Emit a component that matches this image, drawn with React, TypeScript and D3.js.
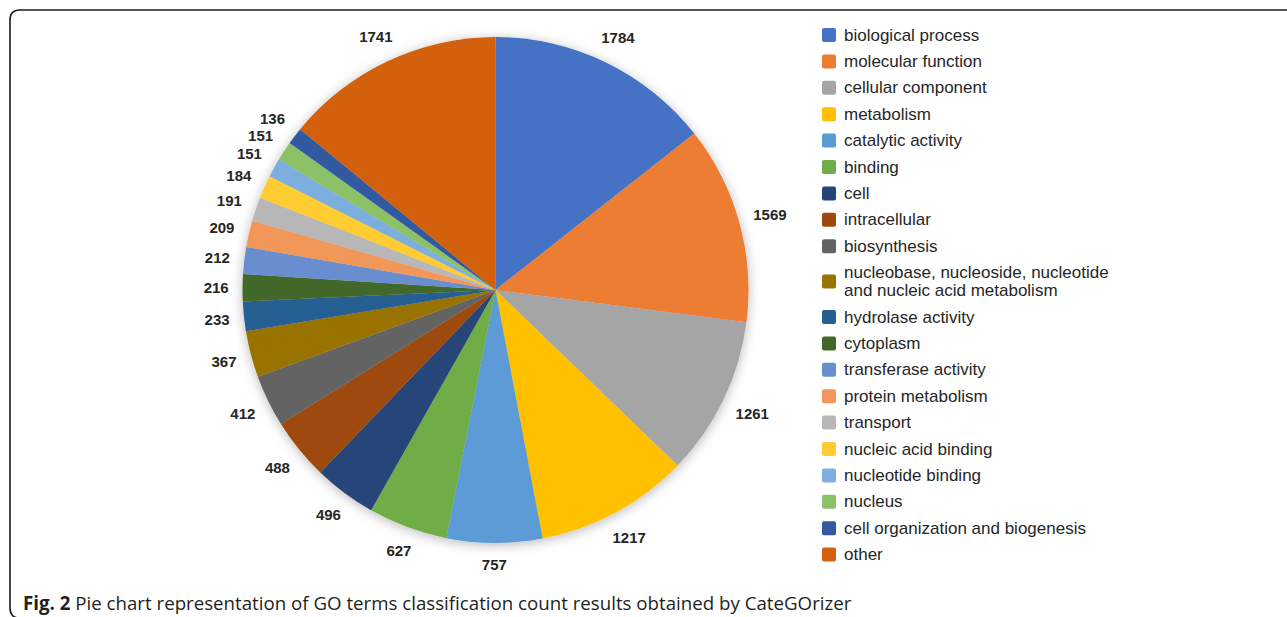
import React from 'react';
import * as d3 from 'd3';

const categories = [
  'biological process',
  'molecular function',
  'cellular component',
  'metabolism',
  'catalytic activity',
  'binding',
  'cell',
  'intracellular',
  'biosynthesis',
  'nucleobase, nucleoside, nucleotide\nand nucleic acid metabolism',
  'hydrolase activity',
  'cytoplasm',
  'transferase activity',
  'protein metabolism',
  'transport',
  'nucleic acid binding',
  'nucleotide binding',
  'nucleus',
  'cell organization and biogenesis',
  'other',
];

const counts = [1784, 1569, 1261, 1217, 757, 627, 496, 488, 412, 367, 233, 216, 212, 209, 191, 184, 151, 151, 136, 1741];

const colors = [
  '#4472C4', '#ED7D31', '#A5A5A5', '#FFC000', '#5B9BD5', '#70AD47', '#264478', '#9E480E',
  '#636363', '#997300', '#255E91', '#43682B', '#698ED0', '#F1975A', '#B7B7B7', '#FFCD33',
  '#7CAFDD', '#8CC168', '#335AA1', '#D2600F',
];

const captionBold = 'Fig. 2';
const captionText = ' Pie chart representation of GO terms classification count results obtained by CateGOrizer';

const width = 1287;
const height = 617;
const cx = 495.5;
const cy = 290;
const radius = 253;

const sans = 'Liberation Sans, Arial, Helvetica, sans-serif';

const App: React.FC = () => {
  const pie = d3.pie<number>().sort(null).value(d => d);
  const arcs = pie(counts);
  const arc = d3.arc<d3.PieArcDatum<number>>().innerRadius(0).outerRadius(radius);

  // legend layout
  const legendX = 822;
  const legendTop = 35;
  const rowStep = 26.4;
  const lineH = 18;
  let extra = 0;
  const legendRows = categories.map((name, i) => {
    const lines = name.split('\n');
    const y = legendTop + i * rowStep + extra;
    extra += (lines.length - 1) * lineH;
    return { name, lines, y, color: colors[i] };
  });

  // label placement: just outside the edge, box-aware
  const gap = 14;
  const labels = arcs.map(a => {
    const mid = (a.startAngle + a.endAngle) / 2;
    const ux = Math.sin(mid);
    const uy = -Math.cos(mid);
    const txt = String(a.data);
    const hw = txt.length * 4.1;
    const hh = 7;
    const r = radius + gap + hw * Math.abs(ux) + hh * Math.abs(uy);
    return { txt, x: cx + r * ux, y: cy + r * uy };
  });

  return (
    <svg
      width={width}
      height={height}
      style={{ position: 'absolute', left: 0, top: 0, background: '#fff' }}
    >
      <defs>
        <filter id="pieShadow" x="-20%" y="-20%" width="140%" height="140%">
          <feDropShadow dx="0" dy="2" stdDeviation="6" floodColor="#000" floodOpacity="0.28" />
        </filter>
      </defs>

      <path
        d={`M ${width} 10 H 20 Q 10 10 10 20 V 608 Q 10 617 18 618`}
        fill="none"
        stroke="#1a1a1a"
        strokeWidth={1.6}
      />

      <g transform={`translate(${cx},${cy})`} filter="url(#pieShadow)">
        {arcs.map((a, i) => (
          <path key={i} d={arc(a) || ''} fill={colors[i]} />
        ))}
      </g>

      <g style={{ fontFamily: sans, fontWeight: 'bold', fontSize: 15 }} fill="#262626">
        {labels.map((l, i) => (
          <text key={i} x={l.x} y={l.y} textAnchor="middle" dominantBaseline="central">
            {l.txt}
          </text>
        ))}
      </g>

      <g style={{ fontFamily: sans, fontSize: 17 }} fill="#262626">
        {legendRows.map((row, i) => {
          const sqY = row.y + ((row.lines.length - 1) * lineH) / 2;
          return (
            <g key={i}>
              <rect x={legendX} y={sqY - 7} width={14} height={14} rx={2} fill={row.color} />
              {row.lines.map((ln, j) => (
                <text key={j} x={legendX + 22} y={row.y + j * lineH} dominantBaseline="central">
                  {ln}
                </text>
              ))}
            </g>
          );
        })}
      </g>

      <text x={23} y={610} style={{ fontFamily: "'Open Sans', sans-serif", fontSize: 18.7 }} fill="#231f20">
        <tspan fontWeight="bold">{captionBold}</tspan>
        <tspan>{captionText}</tspan>
      </text>
    </svg>
  );
};

export default App;
